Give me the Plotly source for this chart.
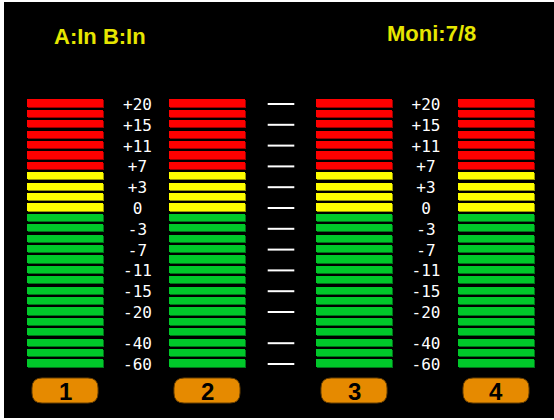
import plotly.graph_objects as go

# header texts
left_header = "A:In B:In"
right_header = "Moni:7/8"

# meter data: segments per colour zone (top to bottom) and lit segments per channel
zone_names = ["red", "yellow", "green"]
zone_counts = [7, 4, 15]
zone_fill = {"red": "#ff0000", "yellow": "#ffff00", "green": "#00c82a"}
zone_shade = {"red": "#9a0000", "yellow": "#9a9a00", "green": "#00741a"}
channels = ["1", "2", "3", "4"]
meter_levels = [26, 26, 26, 26]

# scale labels and the segment row they sit on
scale_labels = ["+20", "+15", "+11", "+7", "+3", "0", "-3", "-7", "-11", "-15", "-20", "-40", "-60"]
scale_rows = [0, 2, 4, 6, 8, 10, 12, 14, 16, 18, 20, 23, 25]

# layout (pixels)
W, H = 554, 420
meter_x = [65, 207, 354, 496]
meter_w = 76
label_x = [137.5, 426]
label_dy = 3 / 10.4         # labels sit a little below the segment centre
dash_x = 281
top_px, pitch = 103, 10.4   # centre of first segment, segment pitch
seg_h = 0.7                 # in segment units


def row(px):
    return (px - top_px) / pitch


n_seg = sum(zone_counts)
zones = []
for name, cnt in zip(zone_names, zone_counts):
    zones += [name] * cnt

fig = go.Figure()

for name in zone_names:
    xs, bases = [], []
    for mx, lvl in zip(meter_x, meter_levels):
        for i in range(n_seg):
            if zones[i] == name and i >= n_seg - lvl:
                xs.append(mx)
                bases.append(i - seg_h / 2)
    # shadow
    fig.add_trace(go.Bar(x=[v + 1 for v in xs], y=[seg_h] * len(xs), base=[b + 1 / pitch for b in bases],
                         width=meter_w, marker=dict(color=zone_shade[name], line_width=0),
                         hoverinfo="skip", showlegend=False))
    fig.add_trace(go.Bar(x=xs, y=[seg_h] * len(xs), base=bases, width=meter_w,
                         marker=dict(color=zone_fill[name], line_width=0),
                         name=name, showlegend=False))

# scale labels
for lx in label_x:
    fig.add_trace(go.Scatter(x=[lx] * len(scale_rows), y=[v + label_dy for v in scale_rows],
                             text=scale_labels, mode="text", textposition="middle center",
                             textfont=dict(family="DejaVu Sans Mono", size=16, color="white"),
                             showlegend=False, hoverinfo="skip"))

# dashes in the middle scale
fig.add_trace(go.Scatter(x=[dash_x] * len(scale_rows), y=[v + 1 / pitch for v in scale_rows], mode="markers",
                         marker=dict(symbol="line-ew", size=19, line=dict(color="white", width=2)),
                         showlegend=False, hoverinfo="skip"))

# channel badges
bw, r = 66, 10
by0, by1 = row(378), row(403)
ry = r / pitch
for mx, ch in zip(meter_x, channels):
    x0, x1 = mx - bw / 2, mx + bw / 2
    path = (f"M {x0 + r},{by0} L {x1 - r},{by0} Q {x1},{by0} {x1},{by0 + ry} "
            f"L {x1},{by1 - ry} Q {x1},{by1} {x1 - r},{by1} L {x0 + r},{by1} "
            f"Q {x0},{by1} {x0},{by1 - ry} L {x0},{by0 + ry} Q {x0},{by0} {x0 + r},{by0} Z")
    fig.add_shape(type="path", path=path, fillcolor="#e68a00", line=dict(color="#6a4000", width=1))
    fig.add_annotation(x=mx, y=row(391), text=f"<b>{ch}</b>", showarrow=False,
                       font=dict(family="Liberation Sans", size=24, color="black"))

# headers
fig.add_annotation(x=100, y=row(36), text=f"<b>{left_header}</b>", showarrow=False,
                   font=dict(family="Liberation Sans", size=22, color="#e6e600"))
fig.add_annotation(x=431, y=row(33), text=f"<b>{right_header}</b>", showarrow=False,
                   font=dict(family="Liberation Sans", size=22, color="#e6e600"))

fig.update_layout(
    width=W, height=H,
    margin=dict(l=4, r=0, t=2, b=2),
    paper_bgcolor="white", plot_bgcolor="black",
    barmode="overlay", bargap=0,
    xaxis=dict(range=[4, W], visible=False, fixedrange=True),
    yaxis=dict(range=[row(H - 2), row(2)], visible=False, fixedrange=True),
)

fig.write_html("out.html", config={"displayModeBar": False},
               post_script="document.body.style.margin='0';")
